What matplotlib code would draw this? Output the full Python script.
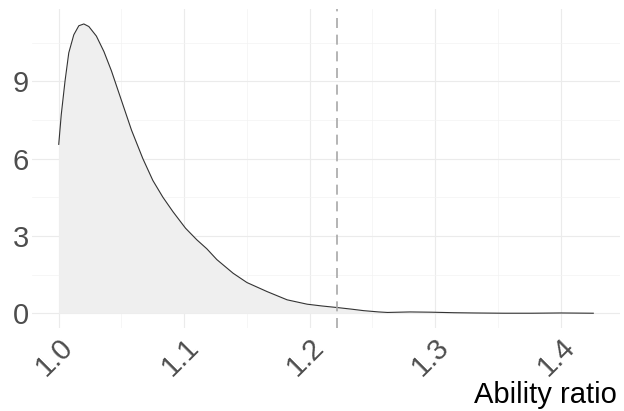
import numpy as np
import matplotlib
matplotlib.use("Agg")
import matplotlib.pyplot as plt

# density curve
ratio = [1.000, 1.002, 1.005, 1.008, 1.012, 1.016, 1.020, 1.024, 1.030, 1.036,
         1.042, 1.050, 1.058, 1.067, 1.075, 1.083, 1.091, 1.101, 1.110, 1.118,
         1.126, 1.139, 1.150, 1.166, 1.182, 1.198, 1.210, 1.222, 1.233, 1.243,
         1.255, 1.262, 1.280, 1.297, 1.315, 1.331, 1.355, 1.377, 1.400, 1.426]
density = [6.55, 7.70, 9.00, 10.10, 10.80, 11.15, 11.22, 11.12, 10.75, 10.15,
           9.40, 8.25, 7.10, 6.00, 5.15, 4.50, 3.94, 3.30, 2.85, 2.50,
           2.08, 1.55, 1.19, 0.84, 0.52, 0.35, 0.28, 0.22, 0.16, 0.10,
           0.05, 0.03, 0.05, 0.04, 0.02, 0.01, 0.00, 0.00, 0.01, 0.00]
cutoff = 1.222
xticks = [1.0, 1.1, 1.2, 1.3, 1.4]
yticks = [0, 3, 6, 9]

plt.rcParams['font.family'] = ['Liberation Sans', 'DejaVu Sans']

fig = plt.figure(figsize=(6.24, 4.11), dpi=100)
ax = fig.add_axes([0.0513, 0.2027, 0.9423, 0.7742])

ax.fill_between(ratio, density, 0, color='#efefef', lw=0, zorder=2)
ax.plot(ratio, density, color='#333333', lw=0.8, zorder=3)
ax.axvline(cutoff, color='#a8a8a8', lw=1.2, ls=(0, (6, 4)), zorder=4)

span = ratio[-1] - ratio[0]
ax.set_xlim(ratio[0] - 0.05 * span, ratio[-1] + 0.05 * span)
top = max(density)
ax.set_ylim(-0.05 * top, top * 1.05)

ax.set_xticks(xticks)
ax.set_xticklabels(['%.1f' % v for v in xticks])
ax.set_yticks(yticks)
ax.set_xticks([1.05, 1.15, 1.25, 1.35], minor=True)
ax.set_yticks([1.5, 4.5, 7.5, 10.5], minor=True)

ax.grid(which='major', color='#ebebeb', lw=0.85, zorder=0)
ax.grid(which='minor', color='#f3f3f3', lw=0.5, zorder=0)
ax.set_axisbelow(True)

for s in ax.spines.values():
    s.set_visible(False)
ax.tick_params(which='both', length=0)
ax.tick_params(axis='y', labelsize=21, labelcolor='#4d4d4d', pad=2)
ax.tick_params(axis='x', labelsize=21, labelcolor='#4d4d4d', pad=4)
for lab in ax.get_xticklabels():
    lab.set_rotation(45)
    lab.set_ha('right')
    lab.set_va('top')
    lab.set_rotation_mode('anchor')

ax.set_xlabel('Ability ratio', fontsize=21, color='black')
ax.xaxis.label.set_ha('right')
ax.xaxis.label.set_va('baseline')
ax.xaxis.set_label_coords(0.9949, -0.2366)

fig.savefig('out.png', dpi=100)
